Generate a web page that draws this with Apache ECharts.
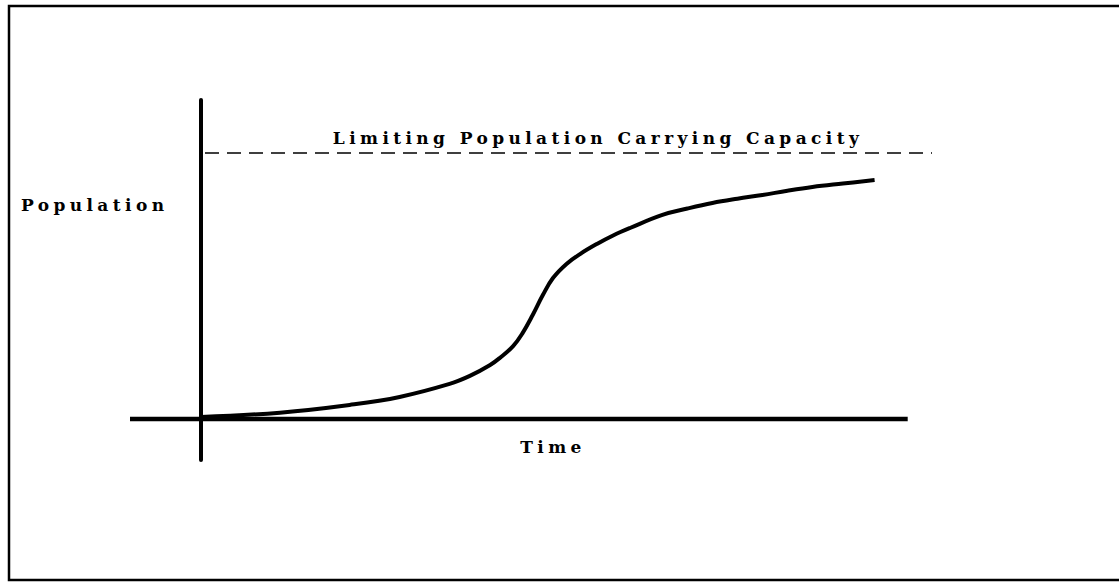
<!DOCTYPE html>
<html>
<head>
<meta charset="utf-8">
<script src="https://cdn.jsdelivr.net/npm/echarts@6/dist/echarts.min.js"></script>
<style>
html,body{margin:0;padding:0;background:#fff;}
#chart{width:1119px;height:582px;letter-spacing:4.4px;}
</style>
</head>
<body>
<div id="chart"></div>
<script>
// Data (time in arbitrary units, population in % of carrying capacity)
var curveTime = [0, 11.7, 22.0, 29.4, 36.8, 39.8, 42.8, 44.2, 46.2, 47.6, 49.1, 50.6, 52.1, 54.1, 56.1, 58.6, 61.0, 63.5, 68.3, 72.0, 75.7, 79.4, 83.1, 86.8, 90.5, 95.0, 99.7];
var curvePop  = [0.75, 2.4, 5.3, 8.3, 13.2, 16.2, 20.3, 22.9, 27.4, 32.3, 39.1, 46.6, 53.0, 58.3, 62.0, 65.8, 69.0, 71.8, 76.7, 79.1, 81.2, 82.8, 84.2, 85.8, 87.2, 88.5, 89.8];
var capacityValue = 100;
var capacityRange = [0.6, 108.7];
var timeAxisRange = [-10.5, 104.6];
var labels = {
  y: 'Population',
  x: 'Time',
  cap: 'Limiting Population Carrying Capacity'
};

var curveData = curveTime.map(function (t, i) { return [t, curvePop[i]]; });
var capData = capacityRange.map(function (t) { return [t, capacityValue]; });
var baseData = timeAxisRange.map(function (t) { return [t, 0]; });

var chart = echarts.init(document.getElementById('chart'), null, {renderer: 'svg'});
var fontFamily = '"DejaVu Serif", serif';
chart.setOption({
  animation: false,
  backgroundColor: '#fff',
  grid: {left: 130, top: 100, width: 800, height: 360, containLabel: false},
  xAxis: {
    type: 'value', min: -10.5, max: 107.9,
    axisLine: {show: false}, axisTick: {show: false}, axisLabel: {show: false}, splitLine: {show: false}
  },
  yAxis: {
    type: 'value', min: -15.4, max: 119.9,
    axisLine: {show: true, onZero: true, lineStyle: {color: '#000', width: 4}},
    axisTick: {show: false}, axisLabel: {show: false}, splitLine: {show: false}
  },
  graphic: [
    {type: 'rect', shape: {x: 9, y: 6, width: 1125, height: 574}, style: {fill: 'none', stroke: '#000', lineWidth: 2.5}, silent: true},
    {type: 'text', left: 21, top: 196, style: {text: labels.y, font: 'bold 17px ' + fontFamily, fill: '#000'}},
    {type: 'text', x: 553, y: 447, style: {text: labels.x, font: 'bold 17px ' + fontFamily, fill: '#000', textAlign: 'center', textVerticalAlign: 'middle'}},
    {type: 'text', x: 598, y: 138, style: {text: labels.cap, font: 'bold 17px ' + fontFamily, fill: '#000', textAlign: 'center', textVerticalAlign: 'middle'}}
  ],
  series: [
    {type: 'line', data: baseData, symbol: 'none', lineStyle: {color: '#000', width: 4.5}, silent: true},
    {type: 'line', data: capData, symbol: 'none', clip: false, lineStyle: {color: '#000', width: 1.5, type: [14, 8]}, silent: true},
    {type: 'line', data: curveData, symbol: 'none', smooth: 0.4, lineStyle: {color: '#000', width: 4}, silent: true}
  ]
});
</script>
</body>
</html>
